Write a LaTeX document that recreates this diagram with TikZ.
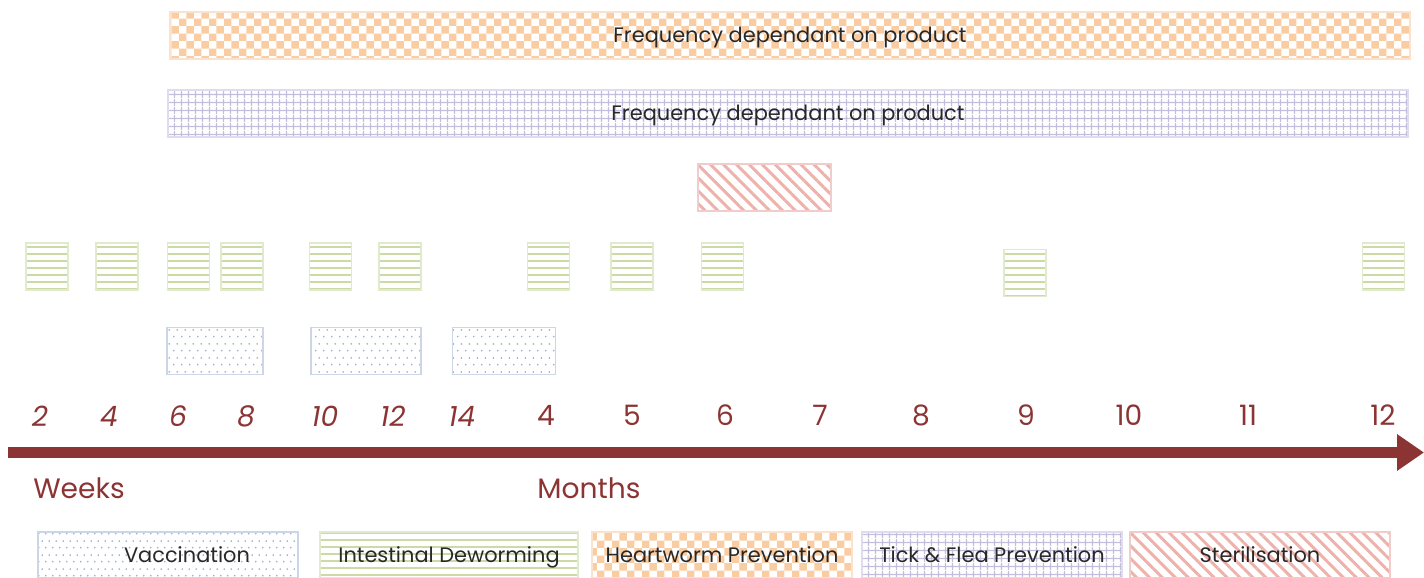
\documentclass[tikz,border=0pt]{standalone}
\usepackage{fontspec}
\setmainfont{Poppins}
\usetikzlibrary{patterns.meta,arrows.meta}
\definecolor{hwC}{RGB}{250,204,162}
\definecolor{hwB}{RGB}{252,226,204}
\definecolor{tfC}{RGB}{196,190,222}
\definecolor{tfB}{RGB}{224,220,240}
\definecolor{dwC}{RGB}{204,219,166}
\definecolor{dwB}{RGB}{226,234,206}
\definecolor{vcC}{RGB}{168,180,204}
\definecolor{vcB}{RGB}{204,214,230}
\definecolor{stC}{RGB}{238,178,172}
\definecolor{stB}{RGB}{242,204,202}
\definecolor{axisred}{RGB}{140,52,52}
\definecolor{txt}{RGB}{40,40,40}
\tikzdeclarepattern{name=checker, type=uncolored,
  bounding box={(0pt,0pt) and (8.5pt,8.5pt)}, tile size={(8.5pt,8.5pt)},
  code={\fill (0pt,0pt) rectangle (4.25pt,4.25pt); \fill (4.25pt,4.25pt) rectangle (8.5pt,8.5pt);}}
\tikzdeclarepattern{name=gridp, type=uncolored,
  bounding box={(0pt,0pt) and (4.25pt,4.25pt)}, tile size={(4.25pt,4.25pt)},
  code={\draw[line width=0.75pt] (0pt,2.125pt) -- (4.25pt,2.125pt) (2.125pt,0pt) -- (2.125pt,4.25pt);}}
\tikzdeclarepattern{name=hlines, type=uncolored,
  bounding box={(0pt,0pt) and (40pt,3.7pt)}, tile size={(40pt,3.7pt)},
  code={\fill (-0.5pt,1.35pt) rectangle (40.5pt,2.35pt);}}
\tikzdeclarepattern{name=sdots, type=uncolored,
  bounding box={(0pt,0pt) and (4.25pt,8pt)}, tile size={(4.25pt,8pt)},
  code={\fill (1.06pt,2pt) circle (0.6pt); \fill (3.19pt,6pt) circle (0.6pt);}}
\def\u{0.02cm}
\begin{document}
\begin{tikzpicture}[x=0.02cm,y=-0.02cm,
  box/.style={inner sep=0pt, outer sep=0pt, line width=1.1pt, text=txt,
    font=\fontsize{11.9}{13}\selectfont, text height=9pt, text depth=0.5pt},
  sz/.style 2 args={minimum width=#1*\u, minimum height=#2*\u},
  hw/.style={box, draw=hwB, pattern=checker, pattern color=hwC},
  tf/.style={box, draw=tfB, pattern=gridp, pattern color=tfC},
  dw/.style={box, draw=dwB, pattern=hlines, pattern color=dwC, sz={42}{47}},
  vc/.style={box, draw=vcB, pattern=sdots, pattern color=vcC},
  st/.style={box, draw=stB, pattern={Lines[angle=-45,distance=5.2pt,line width=1.7pt]}, pattern color=stC},
  lbl/.style={text=txt, inner sep=0pt, font=\fontsize{11.9}{13}\selectfont, text height=9pt, text depth=0.5pt},
  wk/.style={text=axisred, inner sep=0pt, font=\fontsize{16}{18}\selectfont\itshape},
  mo/.style={text=axisred, inner sep=0pt, font=\fontsize{16}{18}\selectfont},
  unit/.style={text=axisred, inner sep=0pt, font=\fontsize{16}{18}\selectfont},
  axis/.style={draw=axisred, line width=6.8pt, -{Triangle[length=15.3pt,width=19.8pt]}}
]
\useasboundingbox (0,0) rectangle (1424,578);
% long bars
\node[hw, sz={1240}{47}] (heart) at (790,35.5) {Frequency dependant on product};
\node[tf, sz={1240}{47}] (tick) at (788,113.5) {Frequency dependant on product};
\node[st, sz={133}{47}] (steril) at (764.5,187.5) {};
% deworming
\foreach \x/\y/\n in {47/266.5/d1, 117/266.5/d2, 188.5/266.5/d3, 242/266.5/d4, 330.5/266.5/d5,
  400/266.5/d6, 548.5/266.5/d7, 632/266.5/d8, 722.5/266.5/d9, 1025/273/d10, 1383.5/266.5/d11}
  \node[dw] (\n) at (\x,\y) {};
% vaccination
\node[vc, sz={96}{47}] (v1) at (215,351) {};
\node[vc, sz={110}{47}] (v2) at (366,351) {};
\node[vc, sz={103}{47}] (v3) at (504,351) {};
% axis labels
\foreach \x/\t/\n in {40/2/w2, 109/4/w4, 178/6/w6, 246/8/w8, 325/10/w10, 393/12/w12, 462/14/w14}
  \node[wk] (\n) at (\x,416) {\t};
\foreach \x/\t/\n in {546/4/m4, 632/5/m5, 725/6/m6, 820/7/m7, 921/8/m8, 1026/9/m9, 1129/10/m10, 1248/11/m11, 1383/12/m12}
  \node[mo] (\n) at (\x,415) {\t};
\coordinate (axL) at (8,452.5);
\coordinate (axR) at (1424,452.5);
\draw[axis] (axL) -- (axR);
\node[unit] (weeks) at (79,488) {Weeks};
\node[unit] (months) at (589,488) {Months};
% legend
\node[vc, sz={260}{46}] (lv) at (168,555) {};
\node[lbl] (lvt) at (187,555) {Vaccination};
\node[dw, sz={258}{46}] (ld) at (449,555) {Intestinal Deworming};
\node[hw, sz={260}{46}] (lh) at (722,555) {Heartworm Prevention};
\node[tf, sz={260}{46}] (lt) at (992,555) {Tick \& Flea Prevention};
\node[st, sz={260}{46}] (ls) at (1260,555) {Sterilisation};
\end{tikzpicture}
\end{document}
